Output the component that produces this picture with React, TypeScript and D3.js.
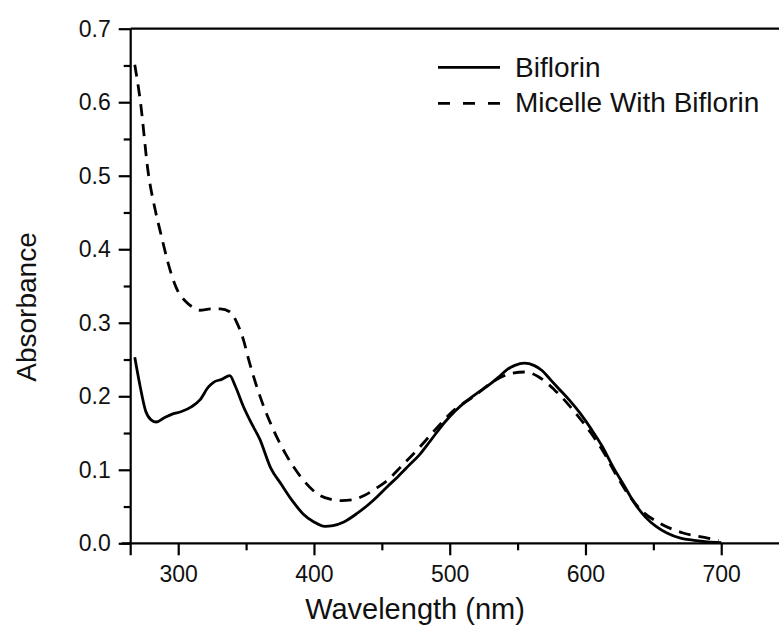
import React, { useEffect, useRef } from "react";
import * as d3 from "d3";

// wavelength (nm) / absorbance pairs
const biflorinNm = [268, 272, 276, 280, 284, 290, 296, 302, 310, 316, 322, 326, 332, 338, 342, 348, 354, 360, 368, 376, 384, 392, 400, 408, 414, 422, 432, 444, 454, 462, 470, 478, 486, 496, 504, 512, 520, 528, 536, 542, 548, 555, 562, 568, 574, 580, 588, 596, 604, 612, 620, 628, 636, 644, 652, 660, 670, 680, 690, 700];
const biflorinAbs = [0.253, 0.213, 0.18, 0.168, 0.165, 0.171, 0.176, 0.179, 0.186, 0.195, 0.212, 0.219, 0.223, 0.228, 0.214, 0.186, 0.163, 0.142, 0.103, 0.08, 0.058, 0.04, 0.029, 0.023, 0.024, 0.029, 0.041, 0.059, 0.077, 0.091, 0.106, 0.121, 0.14, 0.164, 0.18, 0.193, 0.204, 0.214, 0.226, 0.236, 0.242, 0.245, 0.242, 0.235, 0.223, 0.211, 0.195, 0.177, 0.156, 0.133, 0.105, 0.08, 0.055, 0.036, 0.023, 0.014, 0.007, 0.004, 0.002, 0.001];

const micelleNm = [268, 272, 278, 283, 288, 292, 296, 300, 305, 310, 316, 324, 331, 338, 343, 348, 352, 357, 363, 370, 379, 390, 402, 412, 420, 428, 437, 446, 453, 465, 478, 491, 503, 518, 532, 545, 555, 565, 577, 591, 604, 614, 622, 631, 641, 655, 672, 690, 698];
const micelleAbs = [0.651, 0.603, 0.503, 0.454, 0.415, 0.385, 0.36, 0.342, 0.33, 0.322, 0.317, 0.319, 0.319, 0.315, 0.301, 0.277, 0.249, 0.218, 0.186, 0.155, 0.122, 0.091, 0.068, 0.06, 0.058, 0.059, 0.065, 0.075, 0.084, 0.106, 0.131, 0.158, 0.181, 0.2, 0.22, 0.231, 0.233, 0.227, 0.209, 0.181, 0.15, 0.122, 0.095, 0.068, 0.045, 0.027, 0.014, 0.007, 0.004];

const xMajor = [300, 400, 500, 600, 700];
const xMinor = [350, 450, 550, 650];
const yMajor = [0, 0.1, 0.2, 0.3, 0.4, 0.5, 0.6, 0.7];
const yMinor = [0.05, 0.15, 0.25, 0.35, 0.45, 0.55, 0.65];

const seriesNames = ["Biflorin", "Micelle With Biflorin"];

export default function App() {
  const ref = useRef<SVGSVGElement>(null);

  useEffect(() => {
    const width = 779;
    const height = 630;
    const font = "'Liberation Sans', Arial, sans-serif";

    const svg = d3.select(ref.current).attr("width", width).attr("height", height);
    svg.selectAll("*").remove();

    // plot box: left edge at 130.7, bottom at 543.3, top at 28.7
    const xScale = d3.scaleLinear().domain([265, 750]).range([130.7, 789.1]);
    const yScale = d3.scaleLinear().domain([0, 0.7]).range([543.3, 28.7]);

    const x0 = xScale(265);
    const yBottom = yScale(0);
    const yTop = yScale(0.7);

    // axis lines (they run a little past each other at the corner)
    svg.append("line").attr("x1", x0 - 9).attr("x2", width).attr("y1", yBottom).attr("y2", yBottom)
      .attr("stroke", "#000").attr("stroke-width", 2.2);
    svg.append("line").attr("x1", x0).attr("x2", x0).attr("y1", yTop).attr("y2", yBottom + 12)
      .attr("stroke", "#000").attr("stroke-width", 2.2);
    svg.append("line").attr("x1", x0).attr("x2", width).attr("y1", yTop).attr("y2", yTop)
      .attr("stroke", "#000").attr("stroke-width", 2.2);

    const styleAxis = (g: any) => {
      g.select(".domain").remove();
      g.selectAll("line").attr("stroke", "#000").attr("stroke-width", 2.2);
      g.selectAll("text").attr("fill", "#111").style("font-family", font).style("font-size", "23px");
    };

    svg.append("g")
      .attr("transform", `translate(0, ${yBottom})`)
      .call(d3.axisBottom(xScale).tickValues(xMajor).tickSize(12).tickPadding(10).tickFormat(d3.format("d")))
      .call(styleAxis);
    svg.append("g")
      .attr("transform", `translate(0, ${yBottom})`)
      .call(d3.axisBottom(xScale).tickValues(xMinor).tickSize(7).tickFormat(() => ""))
      .call(styleAxis);

    svg.append("g")
      .attr("transform", `translate(${x0}, 0)`)
      .call(d3.axisLeft(yScale).tickValues(yMajor).tickSize(12).tickPadding(8).tickFormat(d3.format(".1f")))
      .call(styleAxis);
    svg.append("g")
      .attr("transform", `translate(${x0}, 0)`)
      .call(d3.axisLeft(yScale).tickValues(yMinor).tickSize(7).tickFormat(() => ""))
      .call(styleAxis);

    // curves
    const line = d3.line<[number, number]>()
      .x(d => xScale(d[0]))
      .y(d => yScale(d[1]))
      .curve(d3.curveMonotoneX);

    const biflorin = biflorinNm.map((v, i) => [v, biflorinAbs[i]] as [number, number]);
    const micelle = micelleNm.map((v, i) => [v, micelleAbs[i]] as [number, number]);

    svg.append("path").attr("d", line(micelle)).attr("fill", "none")
      .attr("stroke", "#000").attr("stroke-width", 2.8).attr("stroke-dasharray", "12,8");
    svg.append("path").attr("d", line(biflorin)).attr("fill", "none")
      .attr("stroke", "#000").attr("stroke-width", 2.8);

    // legend
    const legend = svg.append("g");
    legend.append("line").attr("x1", 438).attr("x2", 500).attr("y1", 67.3).attr("y2", 67.3)
      .attr("stroke", "#000").attr("stroke-width", 2.8);
    legend.append("line").attr("x1", 438).attr("x2", 500).attr("y1", 103.3).attr("y2", 103.3)
      .attr("stroke", "#000").attr("stroke-width", 2.8).attr("stroke-dasharray", "12,13");
    legend.selectAll("text")
      .data(seriesNames)
      .join("text")
      .attr("x", 515)
      .attr("y", (d, i) => 76.5 + i * 35.7)
      .attr("fill", "#111")
      .style("font-family", font)
      .style("font-size", "28px")
      .text(d => d);

    // axis titles
    svg.append("text")
      .attr("x", 415).attr("y", 619)
      .attr("text-anchor", "middle")
      .attr("fill", "#111")
      .style("font-family", font).style("font-size", "29px")
      .text("Wavelength (nm)");
    svg.append("text")
      .attr("transform", `translate(36, 307) rotate(-90)`)
      .attr("text-anchor", "middle")
      .attr("fill", "#111")
      .style("font-family", font).style("font-size", "28px")
      .text("Absorbance");
  }, []);

  return (
    <div style={{ position: "absolute", left: 0, top: 0 }}>
      <svg ref={ref} style={{ display: "block", background: "#fff" }} />
    </div>
  );
}
